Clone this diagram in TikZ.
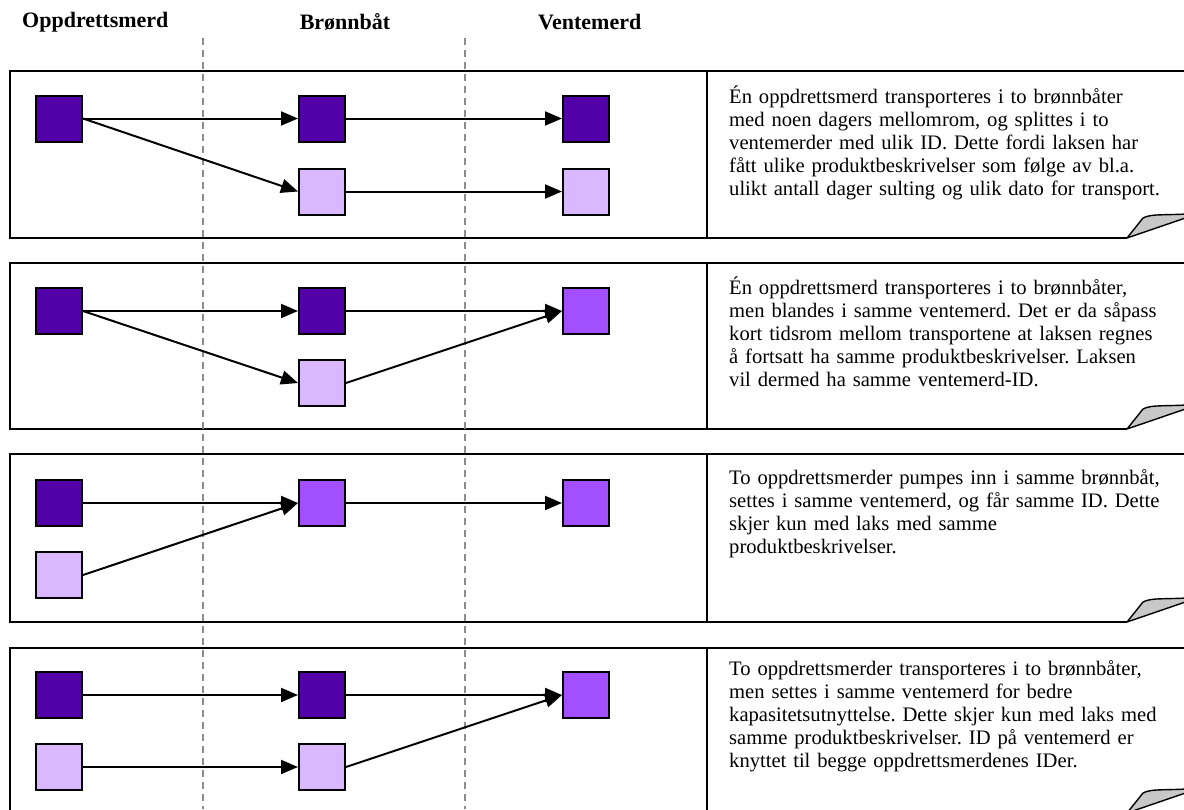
\documentclass[tikz,border=0pt]{standalone}
\usepackage{fontspec}
\setmainfont{Liberation Serif}
\usetikzlibrary{arrows.meta}
\definecolor{merdDark}{RGB}{82,0,168}
\definecolor{merdLight}{RGB}{218,184,255}
\definecolor{merdMid}{RGB}{162,80,255}
\definecolor{guide}{RGB}{140,140,140}
\definecolor{curl}{RGB}{200,200,200}
\tikzset{
  cage/.style={draw=black, line width=2pt, minimum size=46pt, inner sep=0pt},
  dark/.style={cage, fill=merdDark},
  light/.style={cage, fill=merdLight},
  mid/.style={cage, fill=merdMid},
  flow/.style={line width=2pt, -{Triangle[length=17pt,width=14pt]}},
  panel/.style={line width=2.4pt},
  header/.style={font=\fontsize{22}{26}\selectfont\bfseries, inner sep=0pt},
  note/.style={font=\fontsize{20.6}{23}\selectfont\frenchspacing, text width=460pt, align=left, inner sep=0pt, anchor=north west},
  guideline/.style={guide, line width=1.3pt, dash pattern=on 7pt off 5pt},
  foldflap/.style={draw=black, fill=curl, line width=1.4pt, line join=round}
}
\begin{document}
\begin{tikzpicture}[x=1pt,y=-1pt]
\useasboundingbox (0,0) rectangle (1184,809);

% column headings
\node[header, anchor=west] (hA) at (22,22) {Oppdrettsmerd};
\node[header] (hB) at (345,22) {Brønnbåt};
\node[header, anchor=west] (hC) at (538,22) {Ventemerd};

% panel frame with a folded lower right corner; #1 = top, #2 = bottom
\newcommand{\panelframe}[2]{%
  \fill[white] (10,#1) -- (1200,#1) -- (1200,#2-24) -- (1127,#2) -- (10,#2) -- cycle;
  \draw[panel] (1200,#1) -- (10,#1) -- (10,#2) -- (1127,#2);
  \draw[panel] (707,#1) -- (707,#2);
  \draw[foldflap] (1127,#2) -- (1143,#2-20) .. controls (1152,#2-25) and (1168,#2-22) .. (1200,#2-25) -- cycle;
}

\panelframe{71}{238}
\panelframe{263}{429}
\panelframe{454}{622}
\panelframe{648}{813}

% dashed column separators
\coordinate (d1t) at (203,38);
\coordinate (d1b) at (203,809);
\coordinate (d2t) at (465,38);
\coordinate (d2b) at (465,809);
\draw[guideline] (d1t) -- (d1b);
\draw[guideline] (d2t) -- (d2b);

% panel 1: one cage split over two boats into two holding cages
\node[dark]  (p1a)  at (59,118.5) {};
\node[dark]  (p1b1) at (322,118.5) {};
\node[light] (p1b2) at (322,191.5) {};
\node[dark]  (p1c1) at (586,118.5) {};
\node[light] (p1c2) at (586,191.5) {};
\draw[flow] (p1a.east) -- (p1b1.west);
\draw[flow] (p1a.east) -- (p1b2.west);
\draw[flow] (p1b1.east) -- (p1c1.west);
\draw[flow] (p1b2.east) -- (p1c2.west);
\node[note] (t1) at (729,86) {Én oppdrettsmerd transporteres i to brønnbåter\\
med noen dagers mellomrom, og splittes i to\\
ventemerder med ulik ID. Dette fordi laksen har\\
fått ulike produktbeskrivelser som følge av bl.a.\\
ulikt antall dager sulting og ulik dato for transport.};

% panel 2: one cage over two boats, merged in one holding cage
\node[dark]  (p2a)  at (59,311) {};
\node[dark]  (p2b1) at (322,311) {};
\node[light] (p2b2) at (322,383) {};
\node[mid]   (p2c)  at (586,311) {};
\draw[flow] (p2a.east) -- (p2b1.west);
\draw[flow] (p2a.east) -- (p2b2.west);
\draw[flow] (p2b1.east) -- (p2c.west);
\draw[flow] (p2b2.east) -- (p2c.west);
\node[note] (t2) at (729,277) {Én oppdrettsmerd transporteres i to brønnbåter,\\
men blandes i samme ventemerd. Det er da såpass\\
kort tidsrom mellom transportene at laksen regnes\\
å fortsatt ha samme produktbeskrivelser. Laksen\\
vil dermed ha samme ventemerd-ID.};

% panel 3: two cages into one boat and one holding cage
\node[dark]  (p3a1) at (59,503) {};
\node[light] (p3a2) at (59,575) {};
\node[mid]   (p3b)  at (322,503) {};
\node[mid]   (p3c)  at (586,503) {};
\draw[flow] (p3a1.east) -- (p3b.west);
\draw[flow] (p3a2.east) -- (p3b.west);
\draw[flow] (p3b.east) -- (p3c.west);
\node[note] (t3) at (729,469) {To oppdrettsmerder pumpes inn i samme brønnbåt,\\
settes i samme ventemerd, og får samme ID. Dette\\
skjer kun med laks med samme\\
produktbeskrivelser.};

% panel 4: two cages in two boats, merged in one holding cage
\node[dark]  (p4a1) at (59,695) {};
\node[light] (p4a2) at (59,767) {};
\node[dark]  (p4b1) at (322,695) {};
\node[light] (p4b2) at (322,767) {};
\node[mid]   (p4c)  at (586,695) {};
\draw[flow] (p4a1.east) -- (p4b1.west);
\draw[flow] (p4a2.east) -- (p4b2.west);
\draw[flow] (p4b1.east) -- (p4c.west);
\draw[flow] (p4b2.east) -- (p4c.west);
\node[note] (t4) at (729,660) {To oppdrettsmerder transporteres i to brønnbåter,\\
men settes i samme ventemerd for bedre\\
kapasitetsutnyttelse. Dette skjer kun med laks med\\
samme produktbeskrivelser. ID på ventemerd er\\
knyttet til begge oppdrettsmerdenes IDer.};
\end{tikzpicture}
\end{document}
